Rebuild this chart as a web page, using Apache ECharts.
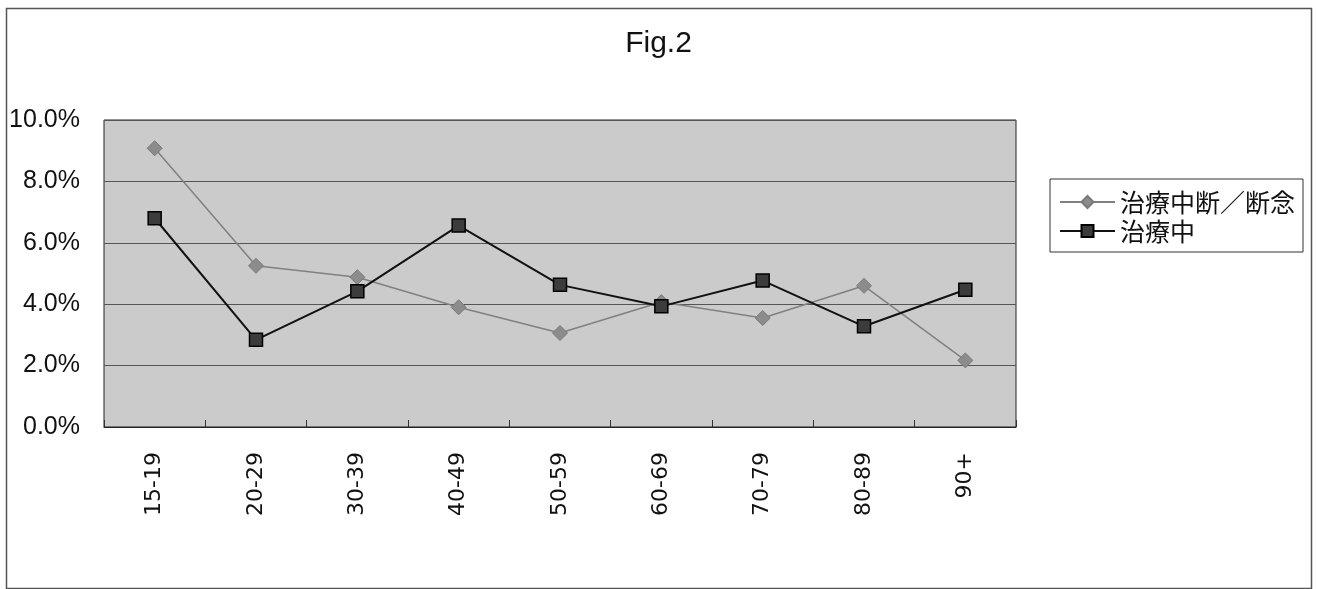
<!DOCTYPE html>
<html>
<head>
<meta charset="utf-8">
<script src="https://cdn.jsdelivr.net/npm/echarts@6/dist/echarts.min.js"></script>
<style>
html,body{margin:0;padding:0;background:#fff;}
#chart{width:1317px;height:589px;}
</style>
</head>
<body>
<div id="chart"></div>
<script>
const categories = ['15-19','20-29','30-39','40-49','50-59','60-69','70-79','80-89','90+'];
const seriesNames = ['治療中断／断念','治療中'];
const interrupted = [9.08, 5.25, 4.88, 3.90, 3.06, 4.07, 3.55, 4.60, 2.17];
const ongoing = [6.80, 2.84, 4.42, 6.56, 4.63, 3.93, 4.77, 3.28, 4.47];
const yTicks = [0, 2, 4, 6, 8, 10];

const chart = echarts.init(document.getElementById('chart'), null, {renderer:'canvas'});
chart.setOption({
  backgroundColor: '#ffffff',
  animation: false,
  title: {
    text: 'Fig.2',
    left: 'center',
    top: 24,
    textStyle: {fontFamily: 'Liberation Sans', fontSize: 30, fontWeight: 'normal', color: '#111'}
  },
  graphic: [{
    type: 'rect',
    shape: {x: 6.5, y: 8.5, width: 1305, height: 580},
    style: {fill: 'none', stroke: '#555', lineWidth: 1.5},
    silent: true
  }],
  legend: {
    orient: 'vertical',
    left: 1050,
    top: 179,
    padding: [10, 8, 8, 9],
    itemGap: 3,
    itemWidth: 55,
    itemHeight: 15,
    borderColor: '#333',
    borderWidth: 1,
    backgroundColor: '#fff',
    textStyle: {fontFamily: 'Noto Sans CJK JP', fontSize: 25, color: '#111', lineHeight: 26},
    data: seriesNames
  },
  grid: {
    left: 104, right: 301, top: 120, bottom: 162,
    show: true,
    backgroundColor: '#cbcbcb',
    borderColor: '#222',
    borderWidth: 1
  },
  xAxis: {
    type: 'category',
    data: categories,
    boundaryGap: true,
    axisLine: {show: true, lineStyle: {color: '#222', width: 1}},
    axisTick: {show: true, inside: true, length: 7, alignWithLabel: false, lineStyle: {color: '#333'}},
    axisLabel: {
      rotate: 90, margin: 25, interval: 0,
      fontFamily: 'DejaVu Sans', fontSize: 22, color: '#111'
    }
  },
  yAxis: {
    type: 'value',
    min: yTicks[0], max: yTicks[yTicks.length-1], interval: 2,
    axisLine: {show: false},
    axisTick: {show: false},
    splitLine: {show: true, lineStyle: {color: '#555', width: 1}},
    axisLabel: {
      margin: 24,
      fontFamily: 'Liberation Sans', fontSize: 25, color: '#111',
      formatter: v => v.toFixed(1) + '%'
    }
  },
  series: [
    {
      name: seriesNames[0],
      type: 'line',
      data: interrupted,
      symbol: 'diamond',
      symbolSize: 15,
      lineStyle: {color: '#808080', width: 1.5},
      itemStyle: {color: '#8c8c8c', borderColor: '#7a7a7a', borderWidth: 1},
      z: 2
    },
    {
      name: seriesNames[1],
      type: 'line',
      data: ongoing,
      symbol: 'rect',
      symbolSize: 13,
      lineStyle: {color: '#111', width: 2},
      itemStyle: {color: '#3c3c3c', borderColor: '#000', borderWidth: 1.5},
      z: 3
    }
  ]
});
</script>
</body>
</html>
